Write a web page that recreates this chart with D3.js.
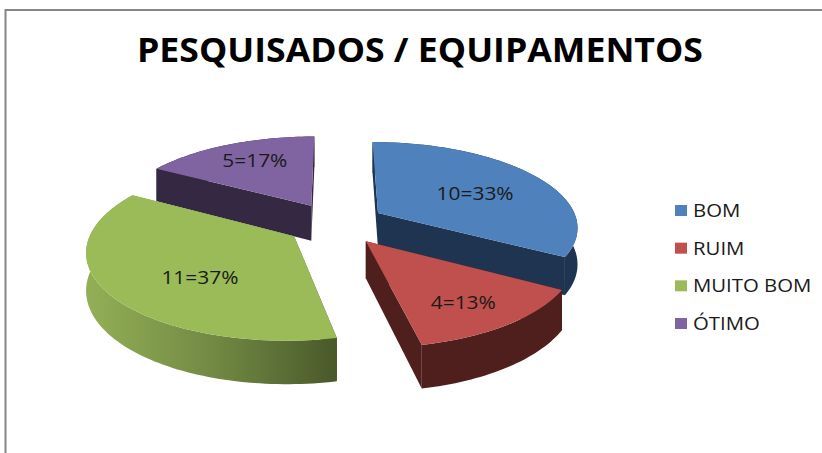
<!DOCTYPE html>
<html><head><meta charset="utf-8">
<script src="https://cdn.jsdelivr.net/npm/d3@7"></script>
<style>html,body{margin:0;padding:0;background:#fff}svg{display:block}</style>
</head><body><div id="c"></div>
<script>
const title = "PESQUISADOS / EQUIPAMENTOS";
const categories = ["BOM","RUIM","MUITO BOM","ÓTIMO"];
const values = [10,4,11,5];
const labels = ["10=33%","4=13%","11=37%","5=17%"];
const topColors = ["#4F81BD","#C0504D","#9BBB59","#8064A2"];
const wallColors = ["#1E3450","#4F1F1E","url(#greenWall)","#352842"];

const W=822,H=453;
const cx=335.5,cy=223.5,RX=200,RY=84.6,P=0.15,EXPLODE=0.25,DEPTH=36;
const labelRadius=[0.58,0.74,0.6,0.7];
const labelAngleDeg=[64,146,224,332];
const labelStretch=1.16, legendStretch=1.13;
const drawOrder=[3,0,2,1];

const svg=d3.select("#c").append("svg").attr("width",W).attr("height",H)
  .style("font-family","'Open Sans',sans-serif");
const grad=svg.append("defs").append("linearGradient").attr("id","greenWall")
  .attr("gradientUnits","userSpaceOnUse").attr("x1",87).attr("x2",337).attr("y1",0).attr("y2",0);
[[0,"#93AF56"],[0.5,"#728A44"],[1,"#49592A"]].forEach(([o,c])=>grad.append("stop").attr("offset",o).attr("stop-color",c));

svg.append("path").attr("d",`M5.5,${H} V10 H${W}`).attr("fill","none").attr("stroke","#868686").attr("stroke-width",2);

svg.append("text").text(title).attr("x",420).attr("y",62).attr("text-anchor","middle")
  .attr("font-size",34).attr("font-weight",700).attr("fill","#000")
  .attr("textLength",566).attr("lengthAdjust","spacingAndGlyphs");

const pie=d3.pie().sort(null).value(d=>d);
const arcs=pie(values);

function project(x,y,z){
  const s=1/(1+P*y);
  return [cx+RX*x*s, cy-RY*y*s+DEPTH*z*s];
}
function pt(d,a,r,z){
  const mid=(d.startAngle+d.endAngle)/2;
  return project(EXPLODE*Math.sin(mid)+r*Math.sin(a), EXPLODE*Math.cos(mid)+r*Math.cos(a), z);
}
const line=d3.line();
function samples(d){
  const n=Math.ceil((d.endAngle-d.startAngle)*40);
  return d3.range(n+1).map(i=>d.startAngle+(d.endAngle-d.startAngle)*i/n);
}
drawOrder.forEach(i=>{
  const d=arcs[i], as=samples(d), wall=wallColors[i];
  const g=svg.append("g");
  const radial=a=>[pt(d,a,0,0),pt(d,a,1,0),pt(d,a,1,1),pt(d,a,0,1)];
  g.append("path").attr("d",line(radial(d.startAngle))+"Z").attr("fill",wall);
  g.append("path").attr("d",line(radial(d.endAngle))+"Z").attr("fill",wall);
  const outer=as.map(a=>pt(d,a,1,0)).concat(as.slice().reverse().map(a=>pt(d,a,1,1)));
  g.append("path").attr("d",line(outer)+"Z").attr("fill",wall);
  const top=[pt(d,0,0,0)].concat(as.map(a=>pt(d,a,1,0)));
  g.append("path").attr("d",line(top)+"Z").attr("fill",topColors[i]);
});
function stretch(sel,k){
  sel.attr("lengthAdjust","spacingAndGlyphs").attr("textLength",sel.node().getComputedTextLength()*k);
}
arcs.forEach((d,i)=>{
  const p=pt(d,labelAngleDeg[i]*Math.PI/180,labelRadius[i],0);
  const t=svg.append("text").text(labels[i]).attr("x",p[0]).attr("y",p[1]+6.5)
    .attr("text-anchor","middle").attr("font-size",18).attr("fill","#1a1a1a");
  stretch(t,labelStretch);
});
const ly=d3.scalePoint().domain(categories).range([210.5,323.5]);
const lc=d3.scaleOrdinal().domain(categories).range(topColors);
categories.forEach(c=>{
  svg.append("rect").attr("x",675).attr("y",ly(c)-5.5).attr("width",12).attr("height",11).attr("fill",lc(c));
  const t=svg.append("text").text(c).attr("x",693).attr("y",ly(c)+6.5).attr("font-size",18).attr("fill","#1a1a1a");
  stretch(t,legendStretch);
});
</script></body></html>
